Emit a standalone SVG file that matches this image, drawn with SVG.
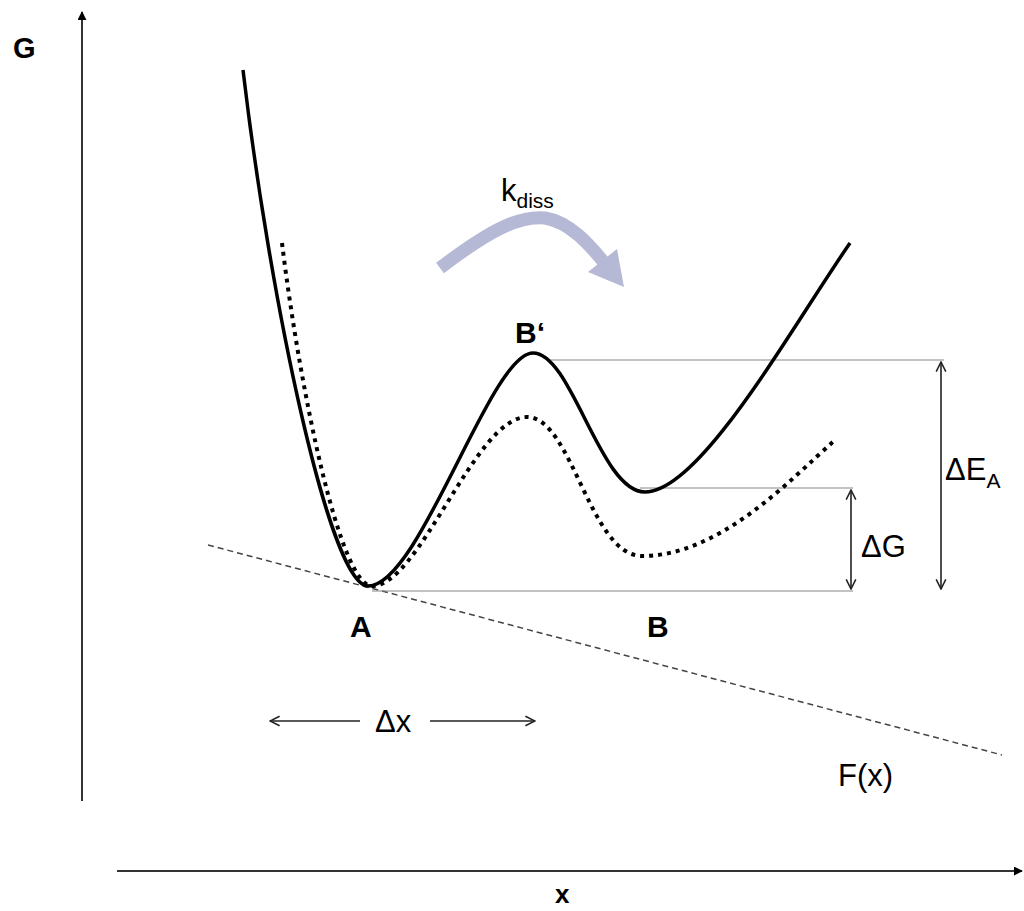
<svg xmlns="http://www.w3.org/2000/svg" width="1024" height="911" viewBox="0 0 1024 911">
<style>
.axis{stroke:#333;stroke-width:2;fill:none}
.thin{stroke:#888;stroke-width:1.2;fill:none}
.dim{stroke:#222;stroke-width:1.6;fill:none}
.lbl{font-family:"Liberation Sans",Arial,sans-serif;fill:#000}
.bold{font-weight:bold}
</style>
<defs>
<marker id="tri" viewBox="0 0 10 10" refX="9" refY="5" markerWidth="9" markerHeight="9" markerUnits="userSpaceOnUse" orient="auto"><path d="M0,0 L10,5 L0,10 Z" fill="#000"/></marker>
<marker id="open" viewBox="0 0 10 10" refX="9" refY="5" markerWidth="12" markerHeight="12" markerUnits="userSpaceOnUse" orient="auto-start-reverse"><path d="M1,1 L9,5 L1,9" fill="none" stroke="#222" stroke-width="1.3"/></marker>
</defs>
<rect width="1024" height="911" fill="#fff"/>
<g id="axes">
<line class="axis" x1="82" y1="801" x2="82" y2="12" marker-end="url(#tri)"/>
<line class="axis" x1="117" y1="871" x2="1022" y2="871" marker-end="url(#tri)"/>
<text class="lbl bold" x="13" y="58" font-size="29">G</text>
<text class="lbl bold" x="555" y="903" font-size="26">x</text>
</g>
<g id="fx">
<line x1="208" y1="545" x2="1002" y2="755" stroke="#444" stroke-width="1.5" stroke-dasharray="6,4"/>
<text class="lbl" x="838" y="786" font-size="31">F(x)</text>
</g>
<g id="connectors">
<line class="thin" x1="548" y1="360" x2="944" y2="360"/>
<line class="thin" x1="640" y1="488" x2="853" y2="488"/>
<line class="thin" x1="372" y1="591" x2="853" y2="591"/>
<line class="dim" x1="941" y1="362" x2="941" y2="589" marker-start="url(#open)" marker-end="url(#open)"/>
<line class="dim" x1="851" y1="490" x2="851" y2="589" marker-start="url(#open)" marker-end="url(#open)"/>
<line class="dim" x1="270" y1="721" x2="360" y2="721" marker-start="url(#open)"/>
<line class="dim" x1="430" y1="721" x2="535" y2="721" marker-end="url(#open)"/>
</g>
<g id="curve-solid">
<path d="M243,70 C270,300 330,586 368,586 C420,586 490,353 533,353 C572,353 600,492 645,492 C700,492 790,330 850,243" fill="none" stroke="#000" stroke-width="3.5"/>
</g>
<g id="curve-dotted">
<path d="M282,243 C300,390 340,586 372,586 C420,586 475,417 527,417 C572,417 590,556 642,556 C720,556 790,480 835,440" fill="none" stroke="#000" stroke-width="4" stroke-dasharray="4,5"/>
</g>
<g id="kdiss">
<path d="M440,268 C490,230 520,215 545,218 C570,222 590,245 606,265" fill="none" stroke="#b6b9d6" stroke-width="13"/>
<path d="M588,272 L624,287 L617,249 Z" fill="#b6b9d6"/>
<text class="lbl" x="501" y="201" font-size="31">k<tspan font-size="21" dy="7">diss</tspan></text>
</g>
<g id="labels">
<text class="lbl bold" x="515" y="343" font-size="30">B‘</text>
<text class="lbl bold" x="350" y="637" font-size="30">A</text>
<text class="lbl bold" x="647" y="637" font-size="30">B</text>
<text class="lbl" x="945" y="480" font-size="31">ΔE<tspan font-size="21" dy="8">A</tspan></text>
<text class="lbl" x="861" y="557" font-size="31">ΔG</text>
<text class="lbl" x="375" y="732" font-size="31">Δx</text>
</g>
</svg>
